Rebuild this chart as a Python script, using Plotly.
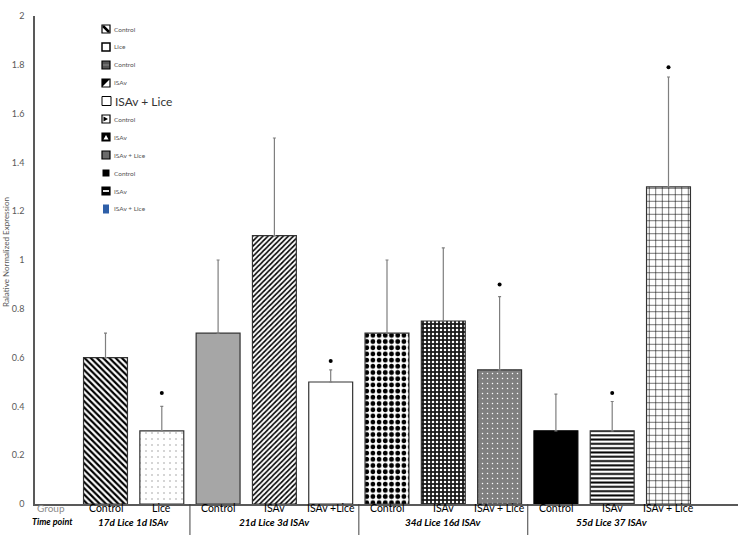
import plotly.graph_objects as go

# ---------------- data ----------------
groups = ["Control", "Lice", "Control", "ISAv", "ISAv +Lice", "Control", "ISAv",
          "ISAv + Lice", "Control", "ISAv", "ISAv + Lice"]
time_points = ["17d Lice 1d ISAv", "21d Lice 3d ISAv", "34d Lice 16d ISAv", "55d Lice 37 ISAv"]
group_sizes = [2, 3, 3, 3]
expression = [0.60, 0.30, 0.70, 1.10, 0.50, 0.70, 0.75, 0.55, 0.30, 0.30, 1.30]
error_upper = [0.10, 0.10, 0.30, 0.40, 0.05, 0.30, 0.30, 0.30, 0.15, 0.12, 0.45]
sig_marks = [None, 0.455, None, None, 0.586, None, None, 0.90, None, 0.455, 1.79]
y_ticks = [0, 0.2, 0.4, 0.6, 0.8, 1.0, 1.2, 1.4, 1.6, 1.8, 2.0]
y_tick_labels = ["0", "0.2", "0.4", "0.6", "0.8", "1", "1.2", "1.4", "1.6", "1.8", "2"]
legend_labels = ["Control", "Lice", "Control", "ISAv", "ISAv + Lice", "Control", "ISAv",
                 "ISAv + Lice", "Control", "ISAv", "ISAv + Lice"]

# ---------------- styles ----------------
pat_shape = ["\\", ".", "", "/", "", ".", ".", ".", "", "-", "+"]
pat_fg = ["black", "#8c8c8c", "black", "black", "black", "black", "white", "white",
          "black", "black", "black"]
pat_bg = ["white", "white", "#a6a6a6", "white", "white", "white", "#1a1a1a", "#808080",
          "black", "white", "white"]
pat_size = [4.4, 6, 6, 3.6, 6, 6.2, 4, 5, 6, 4.3, 6.5]
pat_sol = [0.5, 0.04, 0.3, 0.45, 0.3, 0.45, 0.3, 0.07, 0.3, 0.45, 0.16]
line_col = ["#333333"] * 8 + ["black", "#333333", "#333333"]

W, H = 740, 535
ML, MR, MT, MB = 35, 2, 16, 31
PW, PH = W - ML - MR, H - MT - MB


def px(x):
    return (x - ML) / PW


def py(y):
    return (H - MB - y) / PH


xs = list(range(1, len(expression) + 1))

fig = go.Figure()
for i, (x, v, e) in enumerate(zip(xs, expression, error_upper)):
    pattern = dict(shape=pat_shape[i], fgcolor=pat_fg[i], bgcolor=pat_bg[i],
                   size=pat_size[i], solidity=pat_sol[i], fillmode="replace")
    fig.add_trace(go.Bar(
        x=[x], y=[v], width=0.78,
        marker=dict(color=pat_bg[i], line=dict(color=line_col[i], width=1.2),
                    pattern=pattern),
        error_y=dict(type="data", symmetric=False, array=[e], arrayminus=[0],
                     color="#7f7f7f", thickness=1.2, width=1.5),
        showlegend=False, hoverinfo="skip"))

fig.add_trace(go.Scatter(
    x=xs, y=sig_marks, mode="markers",
    marker=dict(color="black", size=4), showlegend=False, hoverinfo="skip"))

annotations = []
shapes = []

# group labels (row 1)
for x, g in zip(xs, groups):
    annotations.append(dict(x=x, y=0, xref="x", yref="paper", text=g, showarrow=False,
                            xanchor="center", yanchor="top", yshift=4,
                            font=dict(size=10.5, color="black")))

# time point labels (row 2) and separators
start = 0
for k, (tp, n) in enumerate(zip(time_points, group_sizes)):
    members = xs[start:start + n]
    center = sum(members) / n
    annotations.append(dict(x=center, y=0, xref="x", yref="paper",
                            text="<b><i>" + tp + "</i></b>", showarrow=False,
                            xanchor="center", yanchor="top", yshift=-10,
                            font=dict(size=10, color="black")))
    if k < len(time_points) - 1:
        sep = members[-1] + 0.5
        shapes.append(dict(type="line", xref="x", yref="paper", x0=sep, x1=sep,
                           y0=0, y1=py(535), line=dict(color="#404040", width=1)))
    start += n

annotations.append(dict(x=0, y=0, xref="paper", yref="paper", text="Group",
                        showarrow=False, xanchor="left", yanchor="top", yshift=4,
                        font=dict(size=10, color="#8c8c8c")))
annotations.append(dict(x=px(52.5), y=0, xref="paper", yref="paper",
                        text="<b><i>Time point</i></b>", showarrow=False,
                        xanchor="center", yanchor="top", yshift=-10,
                        font=dict(size=9, color="black")))

# y-axis title
annotations.append(dict(x=px(6), y=py(252), xref="paper", yref="paper",
                        text="Ralative Normalized Expression", textangle=-90,
                        showarrow=False, xanchor="center", yanchor="middle",
                        font=dict(size=8, color="#595959")))

# ---------------- manual legend ----------------
for i, lab in enumerate(legend_labels):
    cy = 29 + 18 * i
    x0, x1 = 102, 110
    y0, y1 = cy - 4, cy + 4

    def rect(a, b, c, d, fill, lc="black", lw=1.2):
        shapes.append(dict(type="rect", xref="paper", yref="paper",
                           x0=px(a), x1=px(b), y0=py(d), y1=py(c),
                           fillcolor=fill, line=dict(color=lc, width=lw)))

    def path(pts, fill):
        d = "M " + " L ".join(f"{px(a)},{py(b)}" for a, b in pts) + " Z"
        shapes.append(dict(type="path", xref="paper", yref="paper", path=d,
                           fillcolor=fill, line=dict(color=fill, width=0)))

    def seg(a, b, c, d, col, w):
        shapes.append(dict(type="line", xref="paper", yref="paper",
                           x0=px(a), y0=py(b), x1=px(c), y1=py(d),
                           line=dict(color=col, width=w)))

    size = 6.5
    col = "#555555"
    tx = 112
    if i == 0:
        rect(x0, x1, y0, y1, "white")
        seg(x0 + 1, y0 + 1, x1 - 1, y1 - 1, "black", 2.5)
    elif i == 1:
        rect(x0, x1, y0, y1, "white", lw=1.5)
    elif i == 2:
        rect(x0, x1, y0, y1, "#555555")
        seg(x0 + 1, cy, x1 - 1, cy, "#999999", 0.8)
    elif i == 3:
        rect(x0, x1, y0, y1, "white")
        path([(x0, y0), (x1, y0), (x0, y1)], "black")
    elif i == 4:
        rect(102, 111, cy - 4.5, cy + 4.5, "white", lw=1)
        size = 12
        col = "#333333"
        tx = 113
    elif i == 5:
        rect(x0, x1, y0, y1, "white")
        path([(x0 + 1.5, y0 + 1.5), (x1 - 2, cy), (x0 + 1.5, y1 - 1.5)], "black")
    elif i == 6:
        rect(x0, x1, y0, y1, "black")
        path([(x0 + 1.5, y1 - 1.5), (106, y0 + 2), (x1 - 1.5, y1 - 1.5)], "white")
    elif i == 7:
        rect(x0, x1, y0, y1, "#6b6b6b")
    elif i == 8:
        rect(102.5, 109.5, cy - 3.5, cy + 3.5, "black", lw=0)
    elif i == 9:
        rect(x0, x1, y0, y1, "black")
        seg(x0 + 1, cy, x1 - 1, cy, "white", 1.8)
    elif i == 10:
        rect(103, 109, cy - 4.5, cy + 4.5, "#2e5fa8", lw=0)
    annotations.append(dict(x=px(tx), y=py(cy), xref="paper", yref="paper", text=lab,
                            showarrow=False, xanchor="left", yanchor="middle",
                            font=dict(size=size, color=col)))

left_x = 1 - (105.5 - ML) / 56.3
right_x = 11 + (738 - 668.5) / 56.3

fig.update_layout(
    width=W, height=H,
    margin=dict(l=ML, r=MR, t=MT, b=MB, pad=0),
    paper_bgcolor="white", plot_bgcolor="white",
    font=dict(family="Lato", color="#595959"),
    barmode="overlay",
    xaxis=dict(range=[left_x, right_x], showgrid=False, zeroline=False,
               showticklabels=False, ticks="", showline=True,
               linecolor="#595959", linewidth=1.5, fixedrange=True),
    yaxis=dict(range=[0, 2], showgrid=False, zeroline=False, showline=True,
               linecolor="#595959", linewidth=1.5, tickvals=y_ticks,
               ticktext=y_tick_labels, ticks="", ticklabelstandoff=7,
               tickfont=dict(size=9, color="#595959"), fixedrange=True),
    annotations=annotations,
    shapes=shapes,
)

fig.write_html("out.html", config={"displayModeBar": False},
               post_script="document.body.style.margin='0';document.body.style.overflow='hidden';")
